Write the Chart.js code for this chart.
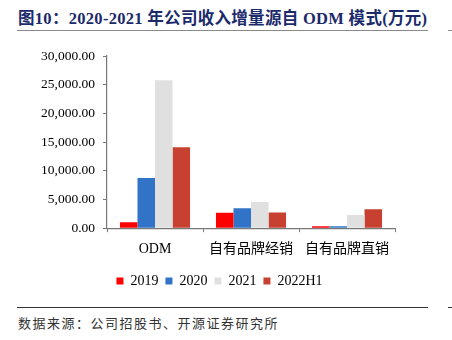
<!DOCTYPE html>
<html>
<head>
<meta charset="utf-8">
<script src="https://cdn.jsdelivr.net/npm/chart.js@4/dist/chart.umd.min.js"></script>
<style>
  html, body { margin: 0; padding: 0; background: #fff; }
  body { width: 452px; height: 340px; position: relative; overflow: hidden; }
  #title { position: absolute; left: 18px; top: 5px; font-family: "Liberation Serif", "Noto Sans CJK SC", serif; font-weight: bold; font-size: 16.5px; color: #1b2a6b; white-space: nowrap; letter-spacing: 0.3px; }
  .rule { position: absolute; height: 0; }
  #titleRule { left: 17px; top: 30px; width: 411px; border-top: 1.5px solid #8a8a8a; }
  #titleRule2 { left: 448px; top: 30px; width: 4px; border-top: 1.5px solid #8a8a8a; }
  #footRule { left: 17px; top: 307px; width: 411px; border-top: 1px solid #333; }
  #footRule2 { left: 448px; top: 307px; width: 4px; border-top: 1px solid #333; }
  #source { position: absolute; left: 18px; top: 313px; font-family: "Noto Sans CJK SC", serif; font-size: 13px; color: #333; letter-spacing: 1.5px; white-space: nowrap; }
  #wrap { position: absolute; left: 0; top: 0; width: 452px; height: 298px; }
</style>
</head>
<body>
<div id="title">图10：2020-2021 年公司收入增量源自 ODM 模式(万元)</div>
<div class="rule" id="titleRule"></div>
<div class="rule" id="titleRule2"></div>
<div id="wrap"><canvas id="c"></canvas></div>
<div class="rule" id="footRule"></div>
<div class="rule" id="footRule2"></div>
<div id="source">数据来源：公司招股书、开源证券研究所</div>
<script>
// Revenue by channel, 10k CNY
const categories = ['ODM', '自有品牌经销', '自有品牌直销'];
const periods = ['2019', '2020', '2021', '2022H1'];
const v2019 = [1030, 2670, 350];
const v2020 = [8740, 3480, 330];
const v2021 = [25770, 4560, 2280];
const v2022H1 = [14100, 2740, 3310];
const seriesValues = [v2019, v2020, v2021, v2022H1];
const yTicks = [0, 5000, 10000, 15000, 20000, 25000, 30000];

const colors = ['#ff0000', '#3174c7', '#e0e0e0', '#c64130'];
const serif = '"Liberation Serif", "Times New Roman", serif';

// Centre the legend row on the page rather than on the padded chart box
const legendShift = {
  id: 'legendShift',
  afterLayout(chart) {
    const lg = chart.legend;
    if (lg) { lg.left += 22; lg.right += 22; }
  }
};

new Chart(document.getElementById('c'), {
  type: 'bar',
  plugins: [legendShift],
  data: {
    labels: categories,
    datasets: periods.map((p, i) => ({
      label: p,
      data: seriesValues[i],
      backgroundColor: colors[i],
      borderWidth: 0,
      categoryPercentage: 0.73,
      barPercentage: 1.0
    }))
  },
  options: {
    responsive: true,
    maintainAspectRatio: false,
    animation: false,
    layout: { padding: { left: 0, right: 57, top: 56, bottom: 0 } },
    plugins: {
      tooltip: { enabled: false },
      legend: {
        position: 'bottom',
        labels: {
          boxWidth: 7, boxHeight: 7, padding: 7,
          color: '#000',
          font: { family: serif, size: 14 }
        }
      }
    },
    scales: {
      x: {
        grid: { display: true, drawOnChartArea: false, offset: true, color: '#777', tickLength: 4, lineWidth: 1 },
        border: { display: true, color: '#777', width: 1.2 },
        ticks: { color: '#000', font: { family: '"Liberation Serif", "Noto Sans CJK SC", serif', size: 14 }, padding: 9 }
      },
      y: {
        min: 0, max: 30000,
        afterFit: (s) => { s.width = 107; },
        afterBuildTicks: (s) => { s.ticks = yTicks.map(v => ({ value: v })); },
        grid: { display: true, drawOnChartArea: false, color: '#777', tickLength: 4 },
        border: { display: true, color: '#777', width: 1.2 },
        ticks: {
          color: '#000', padding: 8,
          font: { family: serif, size: 13.5 },
          callback: (v) => Number(v).toLocaleString('en-US', { minimumFractionDigits: 2, maximumFractionDigits: 2 })
        }
      }
    }
  }
});
</script>
</body>
</html>
